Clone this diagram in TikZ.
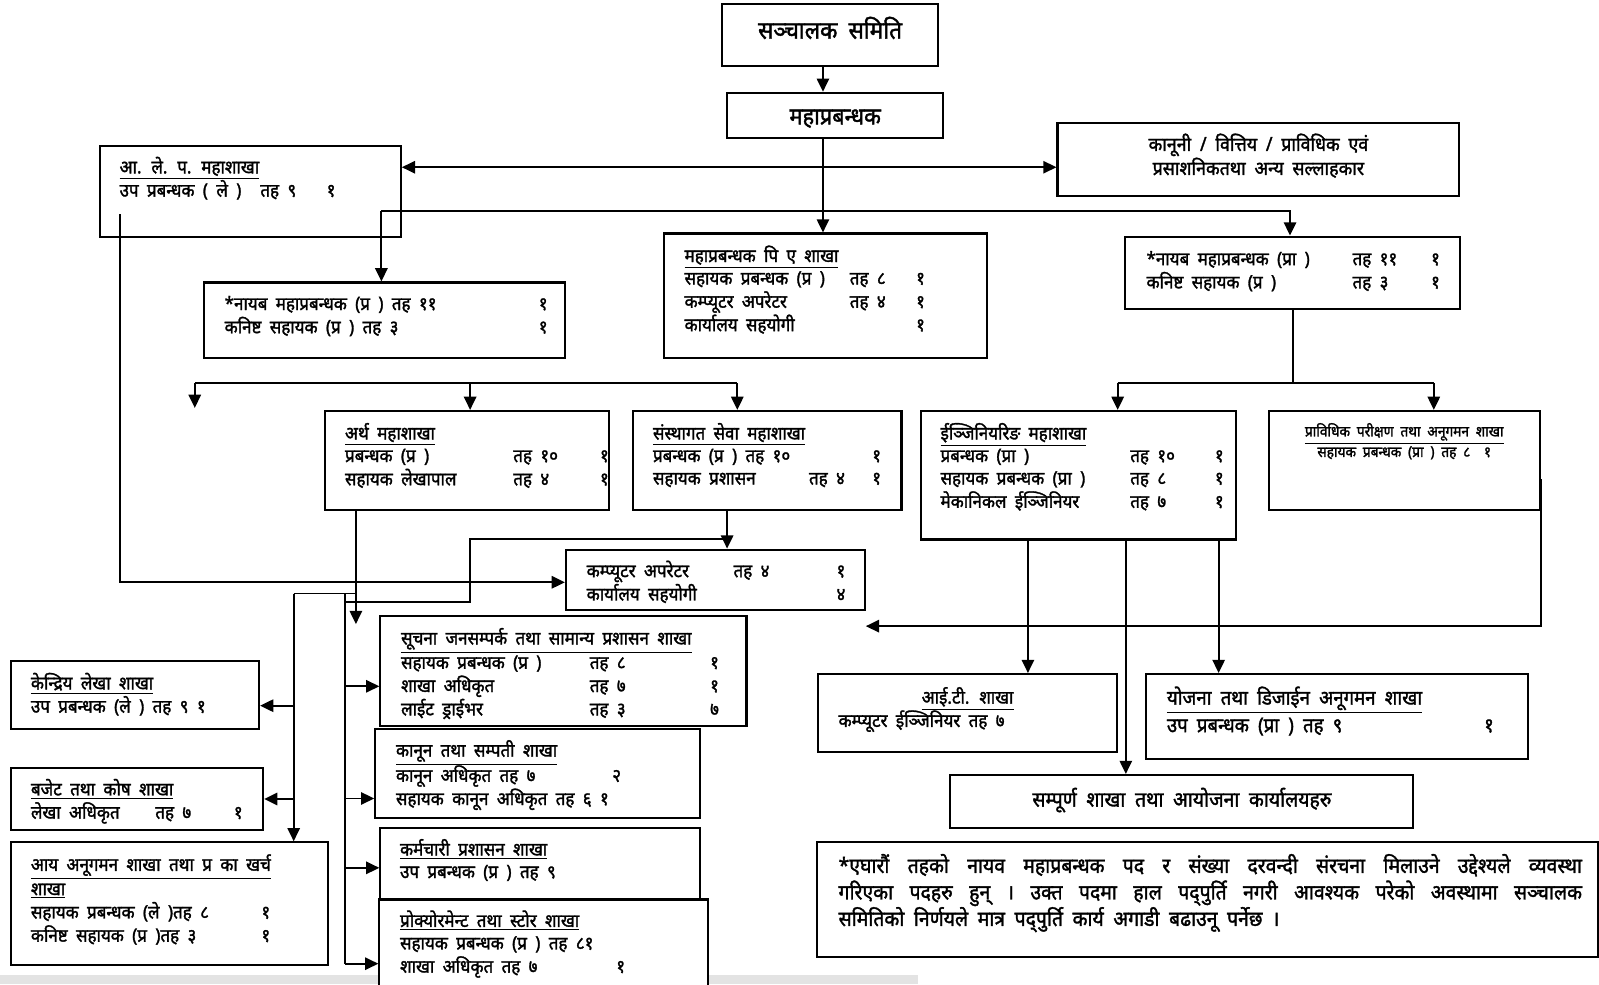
\documentclass[tikz,border=0pt]{standalone}
\usepackage{fontspec}
\setmainfont[Script=Devanagari,FakeStretch=0.92,WordSpace=1.9,FakeBold=1.6]{Noto Sans}
\usetikzlibrary{arrows.meta,fit}

\newlength\unitpx
\setlength\unitpx{0.0204cm}
\newcommand\hd[1]{\underline{#1}}

\tikzset{
  box/.style={draw, line width=1.2pt, fill=white, inner sep=0pt},
  txt/.style={inner sep=0pt, anchor=base west, font=\fontsize{10.5}{12.8}\selectfont},
  link/.style={line width=1.1pt},
  >={Triangle[length=7.5pt,width=7pt]}
}

\begin{document}
\begin{tikzpicture}[x=0.0204cm, y=-0.0204cm]

    \useasboundingbox (0,0) rectangle (1568,965);
    \fill[gray!22] (0,956) rectangle (900,965);

    % boxes
    \node[box, fit={(708,4) (920,65)}] (top) {};
    \node[box, fit={(713,91) (925,135)}] (mg) {};
    \node[box, fit={(1037,121) (1431,192)}] (salla) {};
    \node[box, fit={(98,143) (393,232)}] (ap) {};
    \node[box, fit={(200,277) (554,351)}] (npr) {};
    \node[box, fit={(651,229) (968,351)}] (pa) {};
    \node[box, fit={(1103,232) (1432,303)}] (npra) {};
    \node[box, fit={(319,403) (597,500)}] (artha) {};
    \node[box, fit={(621,403) (884,500)}] (sanstha) {};
    \node[box, fit={(903,403) (1212,529)}] (eng) {};
    \node[box, fit={(1244,403) (1510,500)}] (prav) {};
    \node[box, fit={(555,539) (848,598)}] (comp) {};
    \node[box, fit={(373,604) (732,712)}] (such) {};
    \node[box, fit={(368,715) (686,802)}] (kanun) {};
    \node[box, fit={(373,812) (686,882)}] (karma) {};
    \node[box, fit={(372,882) (694,975)}] (proc) {};
    \node[box, fit={(11,648) (254,715)}] (kendra) {};
    \node[box, fit={(11,753) (258,814)}] (budget) {};
    \node[box, fit={(11,826) (322,946)}] (aay) {};
    \node[box, fit={(802,661) (1095,737)}] (it) {};
    \node[box, fit={(1124,661) (1498,744)}] (yoj) {};
    \node[box, fit={(932,760) (1386,812)}] (samp) {};
    \node[box, fit={(801,826) (1567,938)}] (note) {};

    % free points of the connectors
    \coordinate (splitL) at (374,207);
    \coordinate (splitR) at (1265,207);
    \coordinate (apdrop) at (118,210);
    \coordinate (midL) at (191,376);
    \coordinate (midLend) at (191,400);
    \coordinate (midR) at (723,376);
    \coordinate (rightL) at (1096,376);
    \coordinate (rightR) at (1406,376);
    \coordinate (pravout) at (1511,470);
    \coordinate (sjoin) at (713,529);
    \coordinate (sbend) at (461,590);
    \coordinate (rtop) at (338,582);
    \coordinate (rbot) at (338,945);
    \coordinate (ltop) at (288,582);
    \coordinate (arthaend) at (349,612);

    % connectors
    \draw[link,->] (807,0 |- top.south) -- (807,0 |- mg.north);
    \draw[link,->] (807,0 |- mg.south) -- (807,0 |- pa.north);
    \draw[link,<->] (0,164 -| ap.east) -- (0,164 -| salla.west);
    \draw[link,->] (splitL) -- (splitL |- npr.north);
    \draw[link,->] (splitL) -- (splitR) -- (splitR |- npra.north);
    \draw[link,->] (apdrop) -- (apdrop |- 0,571) -- (0,571 -| comp.west);

    \draw[link] (midL) -- (midR);
    \draw[link,->] (midL) -- (midLend);
    \draw[link,->] (461,376) -- (461,0 |- artha.north);
    \draw[link,->] (midR) -- (midR |- sanstha.north);

    \draw[link] (npra.south) -- (npra.south |- rightL);
    \draw[link] (rightL) -- (rightR);
    \draw[link,->] (rightL) -- (rightL |- eng.north);
    \draw[link,->] (rightR) -- (rightR |- prav.north);
    \draw[link,->] (pravout) -- (pravout |- 0,614) -- (0,614 -| comp.east);

    \draw[link,->] (1008,0 |- eng.south) -- (1008,0 |- it.north);
    \draw[link,->] (1104,0 |- eng.south) -- (1104,0 |- samp.north);
    \draw[link,->] (1195,0 |- eng.south) -- (1195,0 |- yoj.north);

    \draw[link,->] (sjoin |- sanstha.south) -- (sjoin |- comp.north);
    \draw[link] (sjoin) -| (sbend) -- (sbend -| rtop);

    \draw[link,->] (arthaend |- artha.south) -- (arthaend);
    \draw[link] (ltop) -- (ltop -| arthaend);
    \draw[link,->] (ltop) -- (ltop |- aay.north);
    \draw[link,->] (ltop |- 0,692) -- (0,692 -| kendra.east);
    \draw[link,->] (ltop |- budget.east) -- (budget.east);

    \draw[link] (rtop) -- (rbot);
    \draw[link,->] (rtop |- 0,673) -- (0,673 -| such.west);
    \draw[link,->] (rtop |- 0,783) -- (0,783 -| kanun.west);
    \draw[link,->] (rtop |- 0,851) -- (0,851 -| karma.west);
    \draw[link,->] (rbot) -- (rbot -| proc.west);

    % texts
    \node[txt, anchor=base, font=\fontsize{14}{16}\selectfont] at (top.center |- 0,38) (toptxt) {सञ्चालक समिति};
    \node[txt, anchor=base, font=\fontsize{13.5}{16}\selectfont] at (mg.center |- 0,122) (mgtxt) {महाप्रबन्धक};
    \node[txt, anchor=base, font=\fontsize{11}{12.8}\selectfont] at (salla.center |- 0,148) (sallatxt) {\begin{tabular}[t]{@{}c@{}}
      कानूनी / वित्तिय / प्राविधिक एवं\\
      प्रसाशनिकतथा अन्य सल्लाहकार
    \end{tabular}};
    \node[txt, anchor=base, font=\fontsize{12}{14}\selectfont] at (samp.center |- 0,791) (samptxt) {सम्पूर्ण शाखा तथा आयोजना कार्यालयहरु};

    \node[txt] at (117,170) (aptxt) {\begin{tabular}[t]{@{}p{138\unitpx}@{}p{65\unitpx}@{}l@{}}
      \multicolumn{3}{@{}l@{}}{\hd{आ. ले. प. महाशाखा}}\\
      उप प्रबन्धक ( ले ) & तह ९ & १
    \end{tabular}};
    \node[txt] at (220,304) (nprtxt) {\begin{tabular}[t]{@{}p{308\unitpx}@{}l@{}}
      *नायब महाप्रबन्धक (प्र ) तह ११ & १\\
      कनिष्ट सहायक (प्र ) तह ३ & १
    \end{tabular}};
    \node[txt] at (671,257) (patxt) {\begin{tabular}[t]{@{}p{162\unitpx}@{}p{65\unitpx}@{}l@{}}
      \multicolumn{3}{@{}l@{}}{\hd{महाप्रबन्धक पि ए शाखा}}\\
      सहायक प्रबन्धक (प्र ) & तह ८ & १\\
      कम्प्यूटर अपरेटर & तह ४ & १\\
      कार्यालय सहयोगी & & १
    \end{tabular}};
    \node[txt] at (1124,260) (npratxt) {\begin{tabular}[t]{@{}p{202\unitpx}@{}p{77\unitpx}@{}l@{}}
      *नायब महाप्रबन्धक (प्रा ) & तह ११ & १\\
      कनिष्ट सहायक (प्र ) & तह ३ & १
    \end{tabular}};
    \node[txt] at (338,431) (arthatxt) {\begin{tabular}[t]{@{}p{165\unitpx}@{}p{85\unitpx}@{}l@{}}
      \multicolumn{3}{@{}l@{}}{\hd{अर्थ महाशाखा}}\\
      प्रबन्धक (प्र ) & तह १० & १\\
      सहायक लेखापाल & तह ४ & १
    \end{tabular}};
    \node[txt] at (640,431) (sansthatxt) {\begin{tabular}[t]{@{}p{153\unitpx}@{}p{62\unitpx}@{}l@{}}
      \multicolumn{3}{@{}l@{}}{\hd{संस्थागत सेवा महाशाखा}}\\
      \multicolumn{2}{@{}p{215\unitpx}@{}}{प्रबन्धक (प्र ) तह १०} & १\\
      सहायक प्रशासन & तह ४ & १
    \end{tabular}};
    \node[txt] at (922,431) (engtxt) {\begin{tabular}[t]{@{}p{186\unitpx}@{}p{83\unitpx}@{}l@{}}
      \multicolumn{3}{@{}l@{}}{\hd{ईञ्जिनियरिङ महाशाखा}}\\
      प्रबन्धक (प्रा ) & तह १० & १\\
      सहायक प्रबन्धक (प्रा ) & तह ८ & १\\
      मेकानिकल ईञ्जिनियर & तह ७ & १
    \end{tabular}};
    \node[txt, anchor=base, font=\fontsize{8.5}{10.5}\selectfont] at (1377,428) (pravtxt) {\begin{tabular}[t]{@{}c@{}}
      \hd{प्राविधिक परीक्षण तथा अनूगमन शाखा}\\
      सहायक प्रबन्धक (प्रा ) तह ८ \ १
    \end{tabular}};
    \node[txt] at (575,566) (comptxt) {\begin{tabular}[t]{@{}p{144\unitpx}@{}p{101\unitpx}@{}l@{}}
      कम्प्यूटर अपरेटर & तह ४ & १\\
      कार्यालय सहयोगी & & ४
    \end{tabular}};
    \node[txt] at (393,632) (suchtxt) {\begin{tabular}[t]{@{}p{185\unitpx}@{}p{118\unitpx}@{}l@{}}
      \multicolumn{3}{@{}l@{}}{\hd{सूचना जनसम्पर्क तथा सामान्य प्रशासन शाखा}}\\
      सहायक प्रबन्धक (प्र ) & तह ८ & १\\
      शाखा अधिकृत & तह ७ & १\\
      लाईट ड्राईभर & तह ३ & ७
    \end{tabular}};
    \node[txt] at (388,742) (kanuntxt) {\begin{tabular}[t]{@{}p{212\unitpx}@{}l@{}}
      \multicolumn{2}{@{}l@{}}{\hd{कानून तथा सम्पती शाखा}}\\
      कानून अधिकृत तह ७ & २\\
      \multicolumn{2}{@{}l@{}}{सहायक कानून अधिकृत तह ६ १}
    \end{tabular}};
    \node[txt] at (392,839) (karmatxt) {\begin{tabular}[t]{@{}l@{}}
      \hd{कर्मचारी प्रशासन शाखा}\\
      उप प्रबन्धक (प्र ) तह ९
    \end{tabular}};
    \node[txt] at (392,909) (proctxt) {\begin{tabular}[t]{@{}p{212\unitpx}@{}l@{}}
      \multicolumn{2}{@{}l@{}}{\hd{प्रोक्योरमेन्ट तथा स्टोर शाखा}}\\
      \multicolumn{2}{@{}l@{}}{सहायक प्रबन्धक (प्र ) तह ८१}\\
      शाखा अधिकृत तह ७ & १
    \end{tabular}};
    \node[txt] at (30,676) (kendratxt) {\begin{tabular}[t]{@{}l@{}}
      \hd{केन्द्रिय लेखा शाखा}\\
      उप प्रबन्धक (ले ) तह ९ १
    \end{tabular}};
    \node[txt] at (30,780) (budgettxt) {\begin{tabular}[t]{@{}p{122\unitpx}@{}p{77\unitpx}@{}l@{}}
      \multicolumn{3}{@{}l@{}}{\hd{बजेट तथा कोष शाखा}}\\
      लेखा अधिकृत & तह ७ & १
    \end{tabular}};
    \node[txt] at (30,854) (aaytxt) {\begin{tabular}[t]{@{}p{226\unitpx}@{}l@{}}
      \multicolumn{2}{@{}l@{}}{\hd{आय अनूगमन शाखा तथा प्र का खर्च}}\\
      \multicolumn{2}{@{}l@{}}{\hd{शाखा}}\\
      सहायक प्रबन्धक (ले )तह ८ & १\\
      कनिष्ट सहायक (प्र )तह ३ & १
    \end{tabular}};
    \node[txt] at (822,690) (ittxt) {\begin{tabular}[t]{@{}p{253\unitpx}@{}}
      \multicolumn{1}{@{}c@{}}{\hd{आई.टी. शाखा}}\\
      कम्प्यूटर ईञ्जिनियर तह ७
    \end{tabular}};
    \node[txt, font=\fontsize{11.5}{15}\selectfont] at (1144,691) (yojtxt) {\begin{tabular}[t]{@{}p{311\unitpx}@{}l@{}}
      \multicolumn{2}{@{}l@{}}{\hd{योजना तथा डिजाईन अनूगमन शाखा}}\\
      उप प्रबन्धक (प्रा ) तह ९ & १
    \end{tabular}};
    \node[txt, font=\fontsize{12}{14.5}\selectfont] at (822,856) (notetxt) {\begin{tabular}[t]{@{}l@{}}
      \makebox[729\unitpx][s]{*एघारौं तहको नायव महाप्रबन्धक पद र संख्या दरवन्दी संरचना मिलाउने उद्देश्यले व्यवस्था}\\
      \makebox[729\unitpx][s]{गरिएका पदहरु हुन् । उक्त पदमा हाल पद्पुर्ति नगरी आवश्यक परेको अवस्थामा सञ्चालक}\\
      समितिको निर्णयले मात्र पद्पुर्ति कार्य अगाडी बढाउनू पर्नेछ ।
    \end{tabular}};

\end{tikzpicture}
\end{document}
